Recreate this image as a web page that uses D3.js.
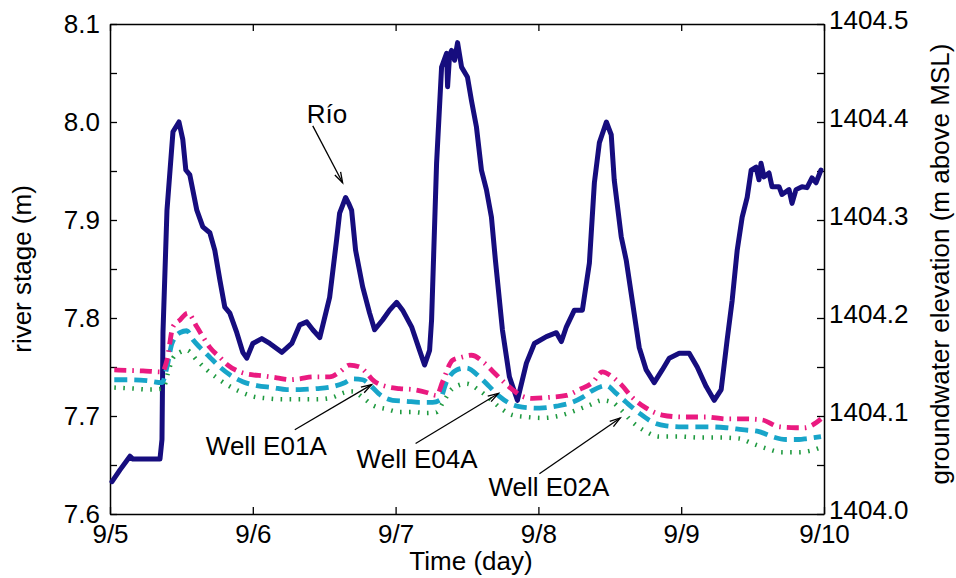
<!DOCTYPE html>
<html>
<head>
<meta charset="utf-8">
<script src="https://cdn.jsdelivr.net/npm/d3@7"></script>
<style>
  html, body { margin: 0; padding: 0; background: #fff; }
  svg { display: block; }
  text { font-family: "Liberation Sans", Arial, Helvetica, sans-serif; fill: #000; }
</style>
</head>
<body>
<svg id="chart" width="956" height="578"></svg>
<script>
// ---------- DATA ----------
// time in days since 9/5 00:00
const dayTicks = [0, 1, 2, 3, 4, 5];
const dayTickLabels = ["9/5", "9/6", "9/7", "9/8", "9/9", "9/10"];
const stageTicks = [7.6, 7.65, 7.7, 7.75, 7.8, 7.85, 7.9, 7.95, 8.0, 8.05, 8.1];
const stageTickLabels = ["7.6", "", "7.7", "", "7.8", "", "7.9", "", "8.0", "", "8.1"];
const elevTicks = [1404.0, 1404.05, 1404.1, 1404.15, 1404.2, 1404.25, 1404.3, 1404.35, 1404.4, 1404.45, 1404.5];
const elevTickLabels = ["1404.0", "", "1404.1", "", "1404.2", "", "1404.3", "", "1404.4", "", "1404.5"];

// River stage (m) – "Río"
const riverTime = [0.014,0.07,0.14,0.161,0.35,0.364,0.371,0.399,0.441,0.483,0.51,0.531,0.559,0.608,0.65,0.699,0.734,0.769,0.804,0.839,0.888,0.93,0.958,1.0,1.063,1.119,1.203,1.273,1.329,1.378,1.42,1.469,1.538,1.587,1.608,1.629,1.65,1.671,1.692,1.72,1.769,1.818,1.853,1.909,1.958,2.007,2.049,2.112,2.168,2.203,2.238,2.252,2.287,2.322,2.357,2.364,2.378,2.392,2.413,2.434,2.462,2.503,2.531,2.566,2.601,2.636,2.671,2.699,2.748,2.797,2.853,2.916,2.972,3.056,3.126,3.161,3.196,3.252,3.308,3.357,3.392,3.427,3.476,3.51,3.531,3.58,3.615,3.657,3.706,3.755,3.811,3.867,3.916,3.986,4.056,4.112,4.175,4.231,4.28,4.322,4.357,4.392,4.427,4.462,4.49,4.524,4.545,4.559,4.58,4.615,4.636,4.685,4.706,4.755,4.776,4.804,4.846,4.881,4.916,4.944,4.979];
const riverStage = [7.633,7.645,7.659,7.656,7.656,7.676,7.785,7.910,7.990,8.000,7.982,7.951,7.946,7.910,7.893,7.887,7.869,7.839,7.811,7.805,7.785,7.765,7.759,7.774,7.779,7.774,7.765,7.774,7.793,7.796,7.788,7.780,7.821,7.880,7.907,7.915,7.923,7.917,7.910,7.869,7.832,7.805,7.788,7.798,7.808,7.816,7.808,7.791,7.767,7.752,7.767,7.798,7.958,8.056,8.070,8.036,8.068,8.073,8.063,8.081,8.056,8.046,8.022,7.995,7.951,7.931,7.903,7.859,7.788,7.740,7.716,7.754,7.774,7.781,7.785,7.776,7.791,7.808,7.808,7.856,7.938,7.979,8.000,7.987,7.941,7.883,7.859,7.818,7.770,7.747,7.734,7.747,7.759,7.764,7.764,7.750,7.730,7.716,7.727,7.778,7.818,7.869,7.903,7.923,7.951,7.954,7.941,7.958,7.944,7.948,7.934,7.934,7.926,7.931,7.917,7.931,7.934,7.933,7.943,7.938,7.951];

// Groundwater elevation (m above MSL) – wells
const e01Time = [0.03,0.231,0.364,0.399,0.441,0.49,0.545,0.608,0.65,0.699,0.769,0.825,0.909,1.0,1.07,1.168,1.259,1.329,1.42,1.538,1.608,1.678,1.748,1.797,1.839,1.937,2.028,2.119,2.217,2.287,2.329,2.399,2.462,2.531,2.622,2.678,2.748,2.818,2.888,2.958,3.077,3.196,3.287,3.378,3.448,3.517,3.58,3.657,3.755,3.867,4.007,4.175,4.315,4.455,4.566,4.685,4.804,4.86,4.944,4.979];
const e01Elev = [1404.147,1404.146,1404.145,1404.157,1404.191,1404.198,1404.205,1404.191,1404.181,1404.170,1404.160,1404.152,1404.145,1404.142,1404.141,1404.139,1404.137,1404.138,1404.140,1404.140,1404.145,1404.152,1404.150,1404.144,1404.137,1404.130,1404.128,1404.127,1404.124,1404.121,1404.135,1404.157,1404.160,1404.162,1404.154,1404.146,1404.136,1404.127,1404.120,1404.118,1404.119,1404.121,1404.127,1404.134,1404.145,1404.140,1404.132,1404.119,1404.108,1404.101,1404.099,1404.099,1404.097,1404.097,1404.096,1404.089,1404.088,1404.088,1404.093,1404.097];

const e04Time = [0.03,0.14,0.259,0.364,0.399,0.434,0.49,0.538,0.58,0.629,0.699,0.769,0.839,0.93,1.028,1.14,1.238,1.329,1.448,1.559,1.643,1.699,1.769,1.832,1.888,1.979,2.077,2.168,2.259,2.308,2.357,2.427,2.497,2.587,2.657,2.727,2.797,2.888,3.007,3.126,3.217,3.308,3.378,3.476,3.545,3.615,3.706,3.797,3.895,4.007,4.175,4.315,4.427,4.545,4.636,4.734,4.825,4.881,4.979];
const e04Elev = [1404.137,1404.137,1404.136,1404.134,1404.150,1404.174,1404.185,1404.187,1404.178,1404.170,1404.160,1404.150,1404.142,1404.135,1404.131,1404.129,1404.127,1404.127,1404.128,1404.130,1404.134,1404.138,1404.137,1404.130,1404.122,1404.116,1404.115,1404.114,1404.114,1404.116,1404.135,1404.147,1404.149,1404.140,1404.130,1404.120,1404.113,1404.109,1404.108,1404.110,1404.113,1404.119,1404.126,1404.131,1404.123,1404.114,1404.103,1404.094,1404.090,1404.089,1404.089,1404.088,1404.086,1404.084,1404.079,1404.076,1404.076,1404.077,1404.079];

const e02Time = [0.03,0.161,0.28,0.371,0.406,0.441,0.49,0.538,0.608,0.678,0.748,0.818,0.909,1.0,1.098,1.21,1.329,1.448,1.559,1.643,1.699,1.769,1.839,1.937,2.028,2.119,2.217,2.287,2.329,2.399,2.497,2.587,2.657,2.727,2.818,2.916,3.028,3.168,3.266,3.357,3.448,3.517,3.58,3.657,3.755,3.846,3.986,4.126,4.266,4.406,4.497,4.594,4.706,4.825,4.916,4.979];
const e02Elev = [1404.129,1404.128,1404.127,1404.128,1404.144,1404.159,1404.165,1404.167,1404.157,1404.147,1404.139,1404.132,1404.125,1404.120,1404.118,1404.117,1404.117,1404.117,1404.119,1404.124,1404.125,1404.119,1404.111,1404.107,1404.104,1404.104,1404.103,1404.104,1404.113,1404.128,1404.133,1404.126,1404.118,1404.109,1404.101,1404.099,1404.098,1404.101,1404.106,1404.111,1404.116,1404.114,1404.106,1404.094,1404.084,1404.079,1404.079,1404.078,1404.078,1404.077,1404.072,1404.067,1404.063,1404.063,1404.065,1404.068];

// Annotations (in time / river-stage units)
const annLabels = ["Río", "Well E01A", "Well E04A", "Well E02A"];
const annTextT = [1.378, 0.671, 1.727, 2.650];
const annTextV = [7.999, 7.660, 7.647, 7.618];
const annFromT = [1.420, 1.294, 2.140, 3.007];
const annFromV = [7.996, 7.686, 7.672, 7.641];
const annToT = [1.629, 1.832, 2.720, 3.573];
const annToV = [7.938, 7.732, 7.723, 7.698];

// ---------- CHART ----------
const W = 956, H = 578;
const margin = { top: 24, right: 132, bottom: 64, left: 110 };
const iw = W - margin.left - margin.right;
const ih = H - margin.top - margin.bottom;

const svg = d3.select("#chart");
const g = svg.append("g").attr("transform", `translate(${margin.left},${margin.top})`);

const x = d3.scaleLinear().domain([0, 5]).range([0, iw]);
const yL = d3.scaleLinear().domain([7.6, 8.1]).range([ih, 0]);
const yR = d3.scaleLinear().domain([1404.0, 1404.5]).range([ih, 0]);

const FS = 26;

// axes
const axB = g.append("g").attr("transform", `translate(0,${ih})`)
  .call(d3.axisBottom(x).tickValues(dayTicks).tickSize(-7).tickSizeOuter(0).tickPadding(11)
    .tickFormat((d, i) => dayTickLabels[i]));
const axT = g.append("g")
  .call(d3.axisTop(x).tickValues(dayTicks).tickSize(-7).tickSizeOuter(0).tickFormat(""));
const axL = g.append("g")
  .call(d3.axisLeft(yL).tickValues(stageTicks).tickSize(-7).tickSizeOuter(0).tickPadding(10)
    .tickFormat((d, i) => stageTickLabels[i]));
const axR = g.append("g").attr("transform", `translate(${iw},0)`)
  .call(d3.axisRight(yR).tickValues(elevTicks).tickSize(-7).tickSizeOuter(0).tickPadding(5)
    .tickFormat((d, i) => elevTickLabels[i]));
axR.selectAll(".tick text").attr("dy", "0.16em");

[axB, axT, axL, axR].forEach(a => {
  a.selectAll(".domain").attr("stroke", "#000").attr("stroke-width", 1.5);
  a.selectAll(".tick line").attr("stroke", "#000").attr("stroke-width", 1.3);
  a.selectAll(".tick text").attr("font-size", FS).attr("font-family", '"Liberation Sans", Arial, sans-serif').attr("fill", "#000");
});

// axis titles
svg.append("text")
  .attr("transform", `translate(31,${margin.top + ih / 2}) rotate(-90)`)
  .attr("text-anchor", "middle").attr("font-size", FS)
  .text("river stage (m)");
svg.append("text")
  .attr("transform", `translate(949,${margin.top + ih / 2 - 5}) rotate(-90)`)
  .attr("text-anchor", "middle").attr("font-size", FS)
  .text("groundwater elevation (m above MSL)");
svg.append("text")
  .attr("x", margin.left + iw / 2 + 4).attr("y", 570)
  .attr("text-anchor", "middle").attr("font-size", FS)
  .text("Time (day)");

// lines
const riverData = riverTime.map((t, i) => [t, riverStage[i]]);
const lineL = d3.line().x(d => x(d[0])).y(d => yL(d[1])).curve(d3.curveLinear);
const lineR = d3.line().x(d => x(d[0])).y(d => yR(d[1])).curve(d3.curveMonotoneX);

g.append("path").datum(riverData)
  .attr("d", lineL).attr("fill", "none")
  .attr("stroke", "#160d7e").attr("stroke-width", 5)
  .attr("stroke-linejoin", "round").attr("stroke-linecap", "round");

const wells = [
  { t: e02Time, v: e02Elev, color: "#1f9a40", width: 4.5, dash: "1.6,7.4" },
  { t: e04Time, v: e04Elev, color: "#18a5c9", width: 4.8, dash: "13,7" },
  { t: e01Time, v: e01Elev, color: "#ea1a80", width: 4.8, dash: "12,6,1.6,6" }
];
wells.forEach(w => {
  g.append("path").datum(w.t.map((t, i) => [t, w.v[i]]))
    .attr("d", lineR).attr("fill", "none")
    .attr("stroke", w.color).attr("stroke-width", w.width)
    .attr("stroke-dasharray", w.dash).attr("stroke-linecap", "butt");
});

// annotations
const ann = g.append("g");
annLabels.forEach((lab, i) => {
  const x1 = x(annFromT[i]), y1 = yL(annFromV[i]);
  const x2 = x(annToT[i]), y2 = yL(annToV[i]);
  ann.append("line").attr("x1", x1).attr("y1", y1).attr("x2", x2).attr("y2", y2)
    .attr("stroke", "#000").attr("stroke-width", 1.3);
  const ang = Math.atan2(y2 - y1, x2 - x1);
  const L = 11, a = 0.3;
  const p1 = [x2 - L * Math.cos(ang - a), y2 - L * Math.sin(ang - a)];
  const p2 = [x2 - L * Math.cos(ang + a), y2 - L * Math.sin(ang + a)];
  ann.append("path").attr("d", `M${p1[0]},${p1[1]}L${x2},${y2}L${p2[0]},${p2[1]}`)
    .attr("fill", "none").attr("stroke", "#000").attr("stroke-width", 1.3);
  ann.append("text").attr("x", x(annTextT[i])).attr("y", yL(annTextV[i]))
    .attr("font-size", FS).text(lab);
});
</script>
</body>
</html>
